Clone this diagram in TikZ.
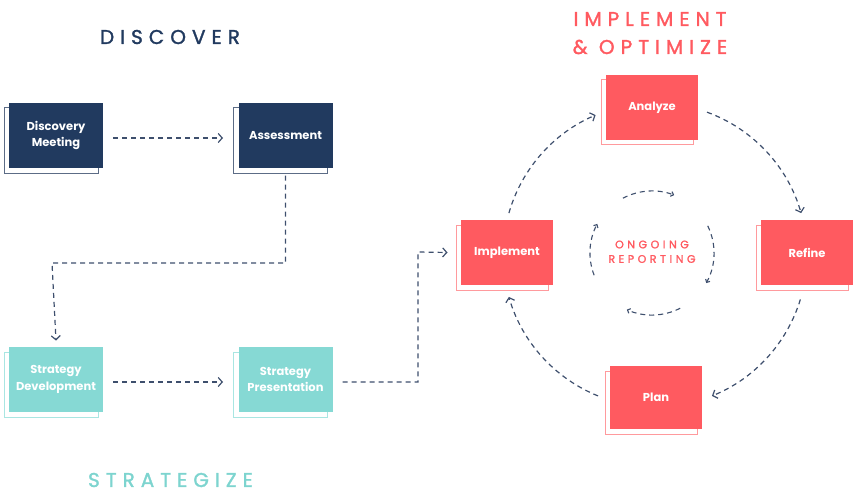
\documentclass[tikz,border=0pt]{standalone}
\usepackage{fontspec}
\setmainfont{Poppins}
\usetikzlibrary{arrows.meta}
\definecolor{navy}{HTML}{213A5F}
\definecolor{navyl}{HTML}{5C6C86}
\definecolor{teal}{HTML}{86D9D4}
\definecolor{teall}{HTML}{A9E6E2}
\definecolor{coral}{HTML}{FF5A60}
\definecolor{corall}{HTML}{FF9A9D}
\definecolor{tealt}{HTML}{7DD4CF}
\definecolor{conn}{HTML}{3E4F6D}
\tikzset{
  front/.style={minimum width=94pt,minimum height=65pt,inner sep=0pt,align=center,text=white,font=\bfseries\fontsize{11.5}{16.5}\selectfont},
  back/.style={minimum width=94pt,minimum height=65pt,inner sep=0pt,fill=white,line width=1pt},
  conn/.style={draw=conn,line width=1.2pt,dash pattern=on 5pt off 4pt,-{Straight Barb[length=4pt,width=9pt,line width=1.2pt]}},
  iconn/.style={draw=conn,line width=1.1pt,dash pattern=on 5pt off 4pt,-{Straight Barb[length=2.5pt,width=5pt,line width=1.1pt]}},
  title/.style={inner sep=0pt,font=\fontsize{20}{20}\selectfont\addfontfeature{LetterSpace=30,FakeBold=1.5}},
  inner/.style={inner sep=0pt,text=coral,font=\fontsize{11}{11}\selectfont\addfontfeature{LetterSpace=32,FakeBold=1.5}},
}
\begin{document}
\begin{tikzpicture}[x=1pt,y=-1pt]
\useasboundingbox (0,0) rectangle (854,500);
% titles
\node[title,text=navy] (tdisc) at (170,37) {DISCOVER};
\node[title,text=coral] (timp) at (650,19) {IMPLEMENT};
\node[title,text=coral] (topt) at (650,47) {\&\ OPTIMIZE};
\node[title,text=tealt] (tstrat) at (170.5,480) {STRATEGIZE};
% back boxes
\node[back,draw=navyl] (dmb) at (51,140.5) {};
\node[back,draw=navyl] (asb) at (280.5,140.5) {};
\node[back,draw=teall] (sdb) at (51,384.5) {};
\node[back,draw=teall] (spb) at (280.5,384.5) {};
\node[back,draw=corall,minimum width=92pt] (imb) at (502,257.5) {};
\node[back,draw=corall,minimum width=92pt] (anb) at (647,112.5) {};
\node[back,draw=corall,minimum width=92pt] (reb) at (802,257.5) {};
\node[back,draw=corall,minimum width=92pt,minimum height=63pt] (plb) at (651,402.5) {};
% front boxes
\node[front,fill=navy] (dm) at (56,135.5) {Discovery\\Meeting};
\node[front,fill=navy] (as) at (285.5,135.5) {Assessment};
\node[front,fill=teal] (sd) at (56,379.5) {Strategy\\Development};
\node[front,fill=teal] (sp) at (285.5,379.5) {Strategy\\Presentation};
\node[front,fill=coral,minimum width=92pt] (im) at (507,252.5) {Implement};
\node[front,fill=coral,minimum width=92pt] (an) at (652,107.5) {Analyze};
\node[front,fill=coral,minimum width=92pt] (re) at (807,252.5) {Refine};
\node[front,fill=coral,minimum width=92pt,minimum height=63pt] (pl) at (656,397.5) {Plan};
% linear connectors
\draw[conn] ([shift={(10pt,-2.5pt)}]dm.east) -- ([shift={(-10pt,2.5pt)}]asb.west);
\draw[conn] ([yshift=-2pt]asb.south -| as.center) |- (52,263) -- ([yshift=11pt]sdb.north -| sd.center);
\draw[conn] ([shift={(10pt,-2.5pt)}]sd.east) -- ([shift={(-10pt,2.5pt)}]spb.west);
\draw[conn] ([shift={(10pt,-2.5pt)}]sp.east) -- (418,382) -- (418,252) -- ([xshift=-8pt]imb.west |- im.center);
% cycle
\coordinate (c) at (655,255);
\coordinate (ci) at (652,253);
\draw[conn] (c) ++(70:152pt) arc[start angle=70,end angle=16,radius=152pt];
\draw[conn] (c) ++(-17:152pt) arc[start angle=-17,end angle=-68,radius=152pt];
\draw[conn] (c) ++(-112:152pt) arc[start angle=-112,end angle=-164,radius=152pt];
\draw[conn] (c) ++(164:152pt) arc[start angle=164,end angle=113,radius=152pt];
% inner cycle
\draw[iconn] (ci) ++(118:62pt) arc[start angle=118,end angle=69,radius=62pt];
\draw[iconn] (ci) ++(26:62pt) arc[start angle=26,end angle=-29,radius=62pt];
\draw[iconn] (ci) ++(-63:62pt) arc[start angle=-63,end angle=-114,radius=62pt];
\draw[iconn] (ci) ++(201:62pt) arc[start angle=201,end angle=152,radius=62pt];
\node[inner] (og) at (652,244.5) {ONGOING};
\node[inner] (rp) at (652,259) {REPORTING};
\end{tikzpicture}
\end{document}
